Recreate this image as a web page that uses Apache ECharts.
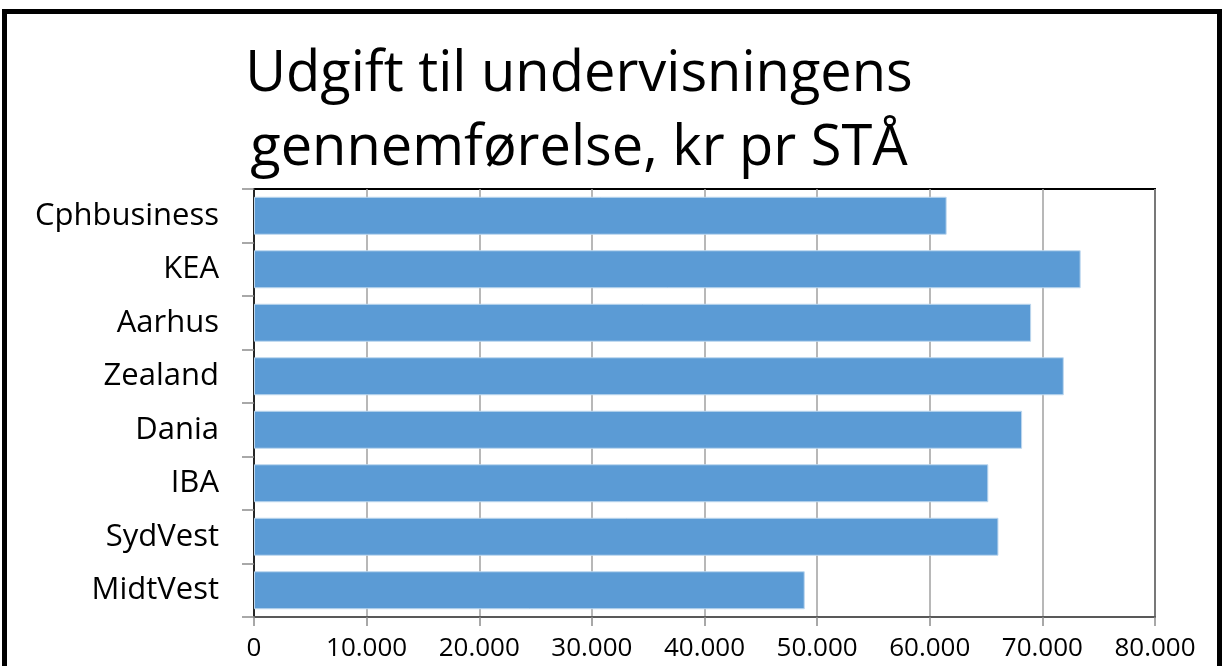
<!DOCTYPE html>
<html>
<head>
<meta charset="utf-8">
<script src="https://cdn.jsdelivr.net/npm/echarts@6/dist/echarts.min.js"></script>
<style>
  html, body { margin: 0; padding: 0; background: #fff; }
  #main { width: 1222px; height: 666px; }
</style>
</head>
<body>
<div id="main"></div>
<script>
var chartTitle = 'Udgift til undervisningens\ngennemførelse, kr pr STÅ';
var schools = ['Cphbusiness', 'KEA', 'Aarhus', 'Zealand', 'Dania', 'IBA', 'SydVest', 'MidtVest'];
var costPerSTA = [61500, 73400, 69000, 71900, 68200, 65200, 66100, 48900];

var myChart = echarts.init(document.getElementById('main'));

// Danish thousands separator
function fmt(v) {
    return String(v).replace(/\B(?=(\d{3})+(?!\d))/g, '.');
}

option = {
    backgroundColor: '#fff',
    textStyle: { fontFamily: 'Open Sans' },
    title: {
        text: chartTitle,
        left: 574,
        textAlign: 'center',
        top: 33,
        textStyle: {
            fontFamily: 'Open Sans',
            fontWeight: 'normal',
            fontSize: 56,
            lineHeight: 74,
            color: '#000'
        }
    },
    graphic: [
        {
            type: 'rect',
            shape: { x: 4.5, y: 11.5, width: 1215, height: 700 },
            style: { fill: null, stroke: '#000', lineWidth: 5 }
        }
    ],
    grid: {
        left: 254,
        right: 67,
        top: 189,
        bottom: 49,
        show: true,
        borderColor: '#000',
        borderWidth: 2
    },
    xAxis: {
        type: 'value',
        min: 0,
        max: 80000,
        interval: 10000,
        axisLine: { show: true, lineStyle: { color: '#595959', width: 2 } },
        axisTick: { show: true, length: 9, lineStyle: { color: '#8c8c8c', width: 1.5 } },
        splitLine: { show: true, lineStyle: { color: '#a0a0a0', width: 1.5 } },
        axisLabel: {
            formatter: fmt,
            fontSize: 26,
            color: '#000',
            margin: 19
        }
    },
    yAxis: {
        type: 'category',
        data: schools,
        inverse: true,
        axisLine: { lineStyle: { color: '#262626', width: 2 } },
        axisTick: { show: true, length: 12, lineStyle: { color: '#8c8c8c', width: 1.5 } },
        axisLabel: {
            fontSize: 31,
            color: '#000',
            margin: 35
        }
    },
    series: [
        {
            type: 'bar',
            data: costPerSTA,
            barWidth: 38,
            itemStyle: {
                color: '#5B9BD5',
                borderColor: '#BDD7EE',
                borderWidth: 1
            },
            silent: true
        }
    ]
};

myChart.setOption(option);
</script>
</body>
</html>
